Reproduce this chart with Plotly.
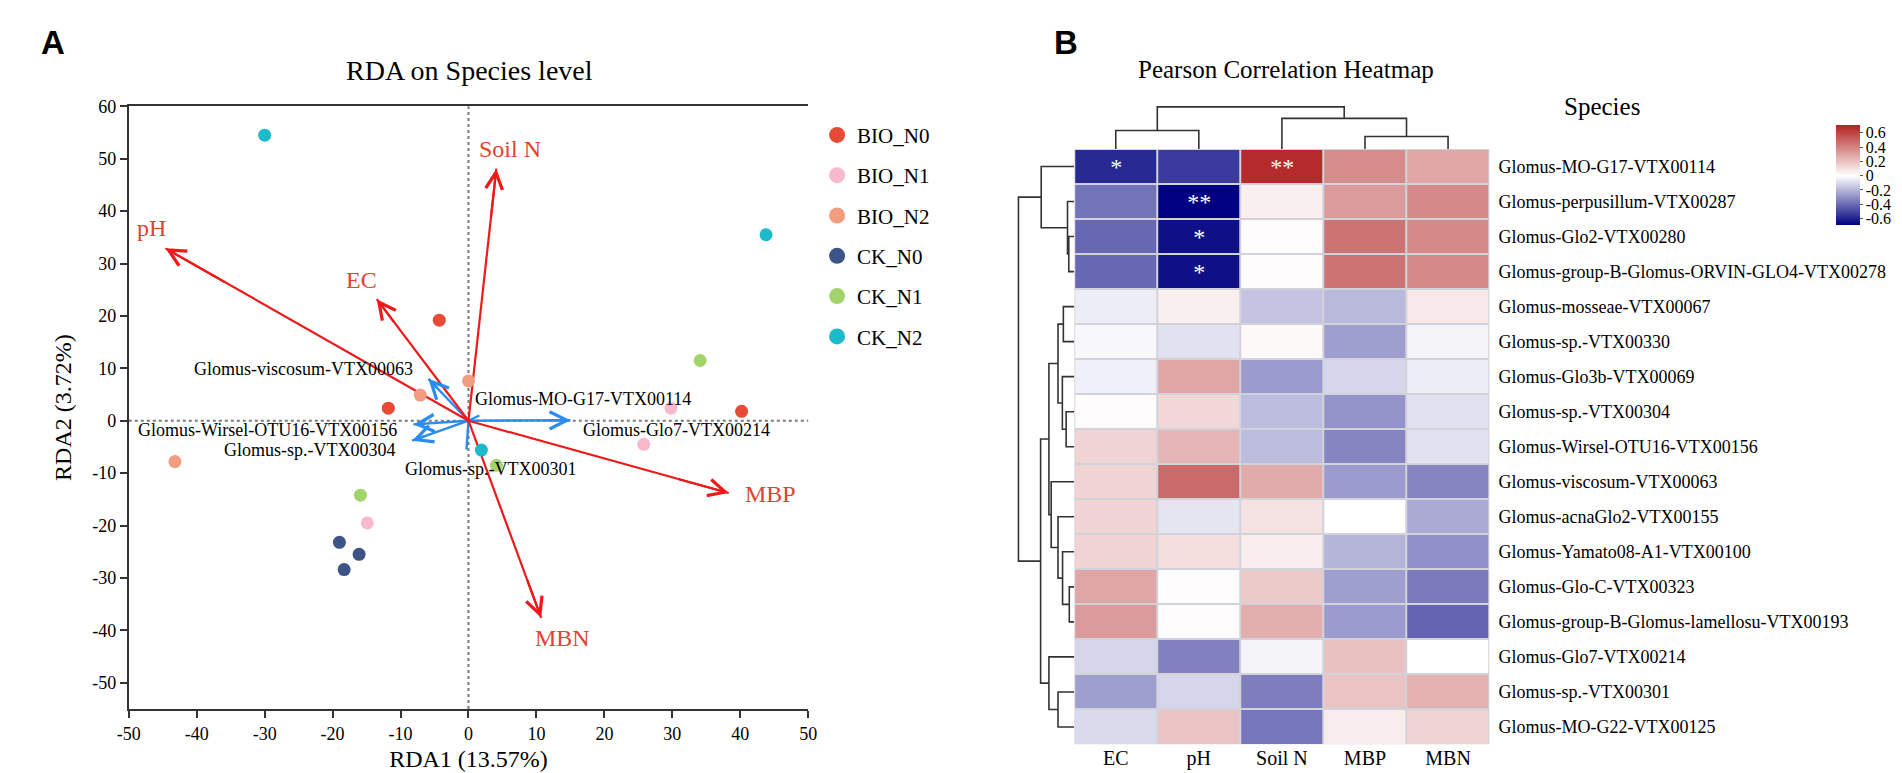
import plotly.graph_objects as go

W, H = 1902, 773
SERIF = "Liberation Serif, Times New Roman, serif"

# ---------------- panel A : RDA biplot ----------------
groups = ["BIO_N0", "BIO_N1", "BIO_N2", "CK_N0", "CK_N1", "CK_N2"]
group_colors = ["#E64B35", "#F8B8CD", "#F29C80", "#3C5488", "#A3D36B", "#1DBACB"]

sample_group = ["BIO_N0", "BIO_N0", "BIO_N0", "BIO_N1", "BIO_N1", "BIO_N1",
                "BIO_N2", "BIO_N2", "BIO_N2", "CK_N0", "CK_N0", "CK_N0",
                "CK_N1", "CK_N1", "CK_N1", "CK_N2", "CK_N2", "CK_N2"]
sample_rda1 = [-4.3, -11.8, 40.2, 29.8, 25.8, -14.9, 0.0, -7.1, -43.2,
               -19.0, -16.1, -18.3, 34.1, 4.1, -15.9, -30.0, 43.8, 1.9]
sample_rda2 = [19.2, 2.4, 1.8, 2.4, -4.5, -19.5, 7.6, 4.9, -7.8,
               -23.2, -25.5, -28.4, 11.5, -8.5, -14.2, 54.5, 35.5, -5.6]

env_names = ["pH", "EC", "Soil N", "MBN", "MBP"]
env_rda1 = [-44.6, -13.5, 4.1, 10.7, 38.3]
env_rda2 = [32.9, 23.2, 48.1, -37.6, -13.8]

sp_names = ["Glomus-Glo7-VTX00214", "Glomus-MO-G17-VTX00114", "Glomus-viscosum-VTX00063",
            "Glomus-Wirsel-OTU16-VTX00156", "Glomus-sp.-VTX00304", "Glomus-sp.-VTX00301"]
sp_rda1 = [15.0, 1.6, -5.9, -8.1, -8.3, -0.3]
sp_rda2 = [0.1, 1.0, 8.0, -0.7, -3.8, -5.5]

x_ticks = [-50, -40, -30, -20, -10, 0, 10, 20, 30, 40, 50]
y_ticks = [-50, -40, -30, -20, -10, 0, 10, 20, 30, 40, 50, 60]

# where the arrow labels sit (layout only)
env_label_pos = [(-46.7, 36.7), (-15.7, 26.8), (6.1, 51.9), (13.9, -41.5), (44.5, -14.0)]
sp_label_pos = [(16.5, -1.7, "left"), (0.7, 4.1, "left"), (-7.8, 9.9, "right"),
                (-10.2, -1.7, "right"), (-10.4, -5.5, "right"), (3.3, -9.3, "center")]

# ---------------- panel B : correlation heatmap ----------------
hm_cols = ["EC", "pH", "Soil N", "MBP", "MBN"]
hm_rows = ["Glomus-MO-G17-VTX00114", "Glomus-perpusillum-VTX00287", "Glomus-Glo2-VTX00280",
           "Glomus-group-B-Glomus-ORVIN-GLO4-VTX00278", "Glomus-mosseae-VTX00067",
           "Glomus-sp.-VTX00330", "Glomus-Glo3b-VTX00069", "Glomus-sp.-VTX00304",
           "Glomus-Wirsel-OTU16-VTX00156", "Glomus-viscosum-VTX00063", "Glomus-acnaGlo2-VTX00155",
           "Glomus-Yamato08-A1-VTX00100", "Glomus-Glo-C-VTX00323",
           "Glomus-group-B-Glomus-lamellosu-VTX00193", "Glomus-Glo7-VTX00214",
           "Glomus-sp.-VTX00301", "Glomus-MO-G22-VTX00125"]
hm_r = [
    [-0.58, -0.53, 0.68, 0.37, 0.29],
    [-0.38, -0.69, 0.05, 0.32, 0.38],
    [-0.41, -0.65, 0.01, 0.45, 0.38],
    [-0.41, -0.65, 0.01, 0.45, 0.38],
    [-0.05, 0.05, -0.16, -0.19, 0.07],
    [-0.02, -0.08, 0.02, -0.26, -0.03],
    [-0.04, 0.29, -0.27, -0.11, -0.05],
    [0.01, 0.13, -0.18, -0.29, -0.08],
    [0.14, 0.24, -0.18, -0.33, -0.08],
    [0.14, 0.48, 0.27, -0.27, -0.33],
    [0.14, -0.07, 0.09, 0.00, -0.23],
    [0.14, 0.11, 0.06, -0.20, -0.30],
    [0.29, 0.01, 0.17, -0.26, -0.36],
    [0.32, 0.01, 0.26, -0.27, -0.42],
    [-0.11, -0.34, -0.03, 0.20, 0.00],
    [-0.26, -0.11, -0.35, 0.19, 0.25],
    [-0.10, 0.19, -0.37, 0.06, 0.14],
]
hm_sig = [["*", "", "**", "", ""], ["", "**", "", "", ""], ["", "*", "", "", ""],
          ["", "*", "", "", ""]] + [["", "", "", "", ""] for _ in range(13)]
cbar_ticks = [-0.6, -0.4, -0.2, 0, 0.2, 0.4, 0.6]
zmin, zmax = -0.69, 0.71

# dendrograms: (height, left, right), leaves are row / column indices
row_tree = (56.4,
            (33.4, 0, (6.8, 1, (5.5, 2, 3))),
            (34.0,
             (25.6,
              (16.4, (11.0, 4, 5), (12.0, 6, (8.2, 7, 8))),
              (23.3, 9, (16.4, 10, (11.8, 11, (5.0, 12, 13))))),
             (25.6, 14, (16.4, 15, 16))))
col_tree = (42.7, (18.7, 0, 1), (31.0, 2, (12.7, 3, 4)))


def px(x):
    return x / W


def py(y):
    return 1 - y / H


def dendro_lines(node, pos, hgt):
    # returns leaf-position / height of node, appends segment coords
    if isinstance(node, int):
        return node, 0.0
    h, left, right = node
    pl, hl = dendro_lines(left, pos, hgt)
    pr, hr = dendro_lines(right, pos, hgt)
    pos += [pl, pl, pr, pr, None]
    hgt += [hl, h, h, hr, None]
    return (pl + pr) / 2, h


fig = go.Figure()

# arrow shafts (under the points)
for ex, ey in zip(sp_rda1, sp_rda2):
    fig.add_trace(go.Scatter(x=[0, ex], y=[0, ey], mode="lines", showlegend=False, hoverinfo="skip",
                             line=dict(color="#2A8CF0", width=2.4)))
for ex, ey in zip(env_rda1, env_rda2):
    fig.add_trace(go.Scatter(x=[0, ex], y=[0, ey], mode="lines", showlegend=False, hoverinfo="skip",
                             line=dict(color="#EE1A1A", width=2.2)))

# sample points
for g, c in zip(groups, group_colors):
    xs = [x for x, s in zip(sample_rda1, sample_group) if s == g]
    ys = [y for y, s in zip(sample_rda2, sample_group) if s == g]
    fig.add_trace(go.Scatter(x=xs, y=ys, mode="markers", name=g, legendgroup=g, showlegend=False,
                             marker=dict(color=c, size=13, line=dict(width=0))))
    # bigger dot for the legend only
    fig.add_trace(go.Scatter(x=[None], y=[None], mode="markers", name=g, legendgroup=g,
                             marker=dict(color=c, size=18)))

# heatmap
z0 = -zmin / (zmax - zmin)
fig.add_trace(go.Heatmap(
    z=hm_r, x=list(range(len(hm_cols))), y=list(range(len(hm_rows))),
    xaxis="x2", yaxis="y2", zmin=zmin, zmax=zmax,
    colorscale=[[0, "#000080"], [z0, "#FFFFFF"], [1, "#B22222"]],
    xgap=2, ygap=2, text=hm_sig, texttemplate="%{text}",
    textfont=dict(color="white", size=24, family=SERIF), hoverinfo="z",
    colorbar=dict(x=px(1836), xanchor="left", xpad=0, y=py(159), yanchor="middle",
                  len=(220 - 98) / H, thickness=24, outlinewidth=0,
                  tickvals=cbar_ticks, ticktext=[f"{v:g}" for v in cbar_ticks],
                  ticks="outside", ticklen=3, tickcolor="#555",
                  tickfont=dict(size=16, family=SERIF, color="black")),
))

rp, rh = [], []
dendro_lines(row_tree, rp, rh)
fig.add_trace(go.Scatter(x=rh, y=rp, xaxis="x3", yaxis="y2", mode="lines", showlegend=False,
                         hoverinfo="skip", line=dict(color="#333", width=1.6)))
cp, ch = [], []
dendro_lines(col_tree, cp, ch)
fig.add_trace(go.Scatter(x=cp, y=ch, xaxis="x2", yaxis="y3", mode="lines", showlegend=False,
                         hoverinfo="skip", line=dict(color="#333", width=1.6)))

annotations = []
# arrow heads
for ex, ey in zip(sp_rda1, sp_rda2):
    annotations.append(dict(x=ex, y=ey, ax=0.75 * ex, ay=0.75 * ey, xref="x", yref="y", axref="x",
                            ayref="y", text="", showarrow=True, arrowhead=5, arrowsize=1.4,
                            arrowwidth=2.4, arrowcolor="#2A8CF0"))
for ex, ey in zip(env_rda1, env_rda2):
    annotations.append(dict(x=ex, y=ey, ax=0.8 * ex, ay=0.8 * ey, xref="x", yref="y", axref="x",
                            ayref="y", text="", showarrow=True, arrowhead=5, arrowsize=1.5,
                            arrowwidth=2.2, arrowcolor="#EE1A1A"))
for name, (lx, ly) in zip(env_names, env_label_pos):
    annotations.append(dict(x=lx, y=ly, xref="x", yref="y", text=name, showarrow=False,
                            font=dict(size=24, color="#E0432F", family=SERIF)))
for name, (lx, ly, anc) in zip(sp_names, sp_label_pos):
    annotations.append(dict(x=lx, y=ly, xref="x", yref="y", text=name, showarrow=False,
                            xanchor=anc, font=dict(size=18, color="black", family=SERIF)))


def paper_text(x, y, text, size, family=SERIF):
    return dict(x=px(x), y=py(y), xref="paper", yref="paper", text=text, showarrow=False,
                xanchor="center", yanchor="middle",
                font=dict(size=size, family=family, color="black"))


# titles and panel letters
annotations += [
    paper_text(455, 53, "RDA on Species level", 28),
    paper_text(1280, 52, "Pearson Correlation Heatmap", 25),
    paper_text(1600, 90, "Species", 25),
    paper_text(33, 25, "<b>A</b>", 33, "Liberation Sans, Arial"),
    paper_text(1058, 25, "<b>B</b>", 33, "Liberation Sans, Arial"),
]

shapes = [
    dict(type="line", xref="x", yref="y domain", x0=0, x1=0, y0=0, y1=1, layer="below",
         line=dict(color="#7A7A7A", width=2, dash="dot")),
    dict(type="line", xref="x domain", yref="y", x0=0, x1=1, y0=0, y1=0, layer="below",
         line=dict(color="#7A7A7A", width=2, dash="dot")),
    dict(type="rect", xref="x2", yref="y2", x0=-0.5, x1=len(hm_cols) - 0.5, y0=-0.5,
         y1=len(hm_rows) - 0.5, layer="below", fillcolor="#D2D2DA", line=dict(width=0)),
]

axis_font = dict(size=18, family=SERIF, color="black")
fig.update_layout(
    width=W, height=H, margin=dict(l=0, r=0, t=0, b=0),
    paper_bgcolor="white", plot_bgcolor="white",
    font=dict(family=SERIF, color="black"),
    showlegend=True,
    legend=dict(x=px(806), y=py(98), xanchor="left", yanchor="top", itemwidth=30,
                font=dict(size=21, family=SERIF, color="black"), bgcolor="rgba(0,0,0,0)"),
    xaxis=dict(domain=[px(110), px(797)], range=[-50, 50], anchor="y",
               tickvals=x_ticks, ticktext=[str(v) for v in x_ticks], tickfont=axis_font,
               ticks="outside", ticklen=7, tickwidth=2, tickcolor="#333",
               showline=True, linecolor="#333", linewidth=2, mirror=True,
               showgrid=False, zeroline=False,
               title=dict(text="RDA1 (13.57%)", font=dict(size=24, family=SERIF), standoff=8)),
    yaxis=dict(domain=[py(700), py(89.5)], range=[-55, 60], anchor="x",
               tickvals=y_ticks, ticktext=[str(v) for v in y_ticks], tickfont=axis_font,
               ticks="outside", ticklen=7, tickwidth=2, tickcolor="#333",
               showline=True, linecolor="#333", linewidth=2,
               showgrid=False, zeroline=False,
               title=dict(text="RDA2 (3.72%)", font=dict(size=24, family=SERIF), standoff=14)),
    xaxis2=dict(domain=[px(1066), px(1486)], range=[-0.5, len(hm_cols) - 0.5], anchor="y2",
                tickvals=list(range(len(hm_cols))), ticktext=hm_cols, ticks="",
                tickfont=dict(size=20, family=SERIF, color="black"),
                showgrid=False, zeroline=False, showline=False),
    yaxis2=dict(domain=[py(736), py(132.7)], range=[len(hm_rows) - 0.5, -0.5], anchor="x2",
                side="right", tickvals=list(range(len(hm_rows))), ticktext=hm_rows, ticks="",
                ticklabelstandoff=8, tickfont=dict(size=18, family=SERIF, color="black"),
                showgrid=False, zeroline=False, showline=False),
    xaxis3=dict(domain=[px(990), px(1066)], range=[76, 0], anchor="y2", visible=False),
    yaxis3=dict(domain=[py(132.7), py(80)], range=[0, 52.7], anchor="x2", visible=False),
    annotations=annotations, shapes=shapes,
)

fig.write_html("out.html")
